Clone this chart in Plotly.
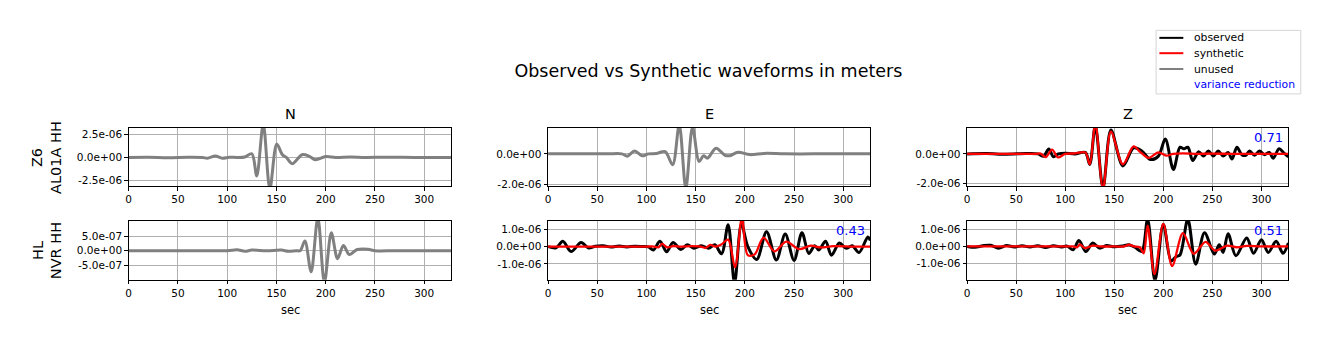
import numpy as np
import plotly.graph_objects as go

W, H = 1329, 351
UM = 1e-6  # values below are stored in micrometres

components = ["N", "E", "Z"]
stations = ["Z6<br>AL01A HH", "HL<br>NVR HH"]
x_ticks = [0, 50, 100, 150, 200, 250, 300]
x_range = [0, 327.5]
legend_labels = ["observed", "synthetic", "unused", "variance reduction"]

# ---------------- Z6 AL01A HH ----------------
z6_n_unused_t = [0, 20, 40, 60, 75, 80, 88, 95, 102, 110, 118, 125, 130, 136.6, 143.3, 150.3, 156, 160,
                 166, 176, 183, 189.6, 200, 210, 225, 240, 260, 290, 327.5]
z6_n_unused_v = [0, 0.02, -0.02, 0.02, 0, -0.08, 0.15, -0.08, 0.03, 0, 0.05, 0.4, -2.0, 3.6, -3.4, 1.46, 0.3, 0.0,
                 -0.68, 0.3, 0.15, -0.25, 0.1, 0.0, 0.05, 0, 0.02, 0, 0]

z6_e_unused_t = [0, 30, 60, 75, 80.5, 88, 95.6, 102, 110, 119, 126.6, 133.3, 140, 146.8, 153.5, 158, 162, 170.7,
                 179.8, 184.8, 193, 205, 220, 240, 270, 300, 327.5]
z6_e_unused_v = [0, 0, 0, 0.0, -0.15, 0.19, -0.13, 0, 0.02, 0.15, -0.71, 1.9, -2.25, 1.75, -0.5, -0.13, -0.28, 0.37,
                 -0.1, -0.12, 0.1, -0.05, 0.03, 0, 0, 0, 0]

z6_z_obs_t = [0, 20, 40, 60, 72, 78, 83.3, 88, 93, 100, 110, 120.5, 125, 130.7, 138.5, 146.6, 158.8, 169.7, 178,
              187, 195, 202, 210.3, 217, 221, 225, 230, 236, 241, 246, 251, 256, 261, 266, 270, 275, 280, 284,
              288, 293, 298, 303, 308, 312, 318, 323, 327.5]
z6_z_obs_v = [0, 0.02, -0.02, 0.02, 0, -0.15, 0.33, -0.2, 0.0, 0.05, 0, 0.1, -0.71, 1.9, -2.3, 1.62, -0.82, 0.4, 0.2,
              -0.38, -0.15, 1.0, -1.05, 0.45, 0.35, 0.45, -0.45, 0.15, -0.15, 0.2, -0.15, 0.2, -0.15, 0.1, -0.35,
              0.45, -0.05, -0.1, 0.2, -0.1, 0.2, -0.05, 0.1, -0.3, 0.35, 0.05, -0.2]
z6_z_syn_t = [0, 40, 70, 75, 80, 86.7, 92.5, 100, 110, 120.5, 125, 130.7, 138.5, 146.6, 158.8, 169.7, 177, 185,
              195, 203, 210, 220, 235, 250, 270, 300, 327.5]
z6_z_syn_v = [0, 0, 0, 0.02, -0.22, 0.29, -0.24, 0.0, 0.03, 0.1, -0.7, 2.0, -2.35, 1.5, -0.7, 0.5, 0.1, -0.27,
              0.1, -0.12, 0.0, 0.04, 0, 0.02, 0, 0, 0]
z6_z_vr = "0.71"

# ---------------- HL NVR HH ----------------
hl_n_unused_t = [0, 50, 100, 110, 118, 125, 140, 155, 162, 170, 174, 178.9, 185.2, 192, 198.7, 205.7, 212, 218,
                 224, 232, 243, 250, 270, 300, 327.5]
hl_n_unused_v = [0, 0, 0, 0.03, -0.02, 0.02, 0, 0.02, -0.02, 0.0, 0.0, 0.33, -0.72, 1.12, -1.08, 0.61, -0.27, 0.18,
                 -0.13, 0.04, 0.05, 0, 0, 0, 0]

hl_e_obs_t = [0, 8, 15, 23.4, 33.5, 41, 48, 56, 64, 72, 80, 88, 96, 102, 107, 113.7, 120.5, 127, 135, 141.5, 148,
              156, 163, 169.5, 176.3, 183, 189.5, 196.5, 203, 212, 222, 232, 241, 250, 258, 265, 271, 275, 282,
              288, 296, 303, 309, 316, 325, 327.5]
hl_e_obs_v = [0, -0.08, 0.3, -0.29, 0.23, -0.08, 0.02, 0.05, -0.03, 0.03, -0.02, 0.02, 0, -0.02, -0.2, 0.3, -0.3,
              0.23, -0.17, 0.11, -0.1, 0.05, -0.1, 0.1, -0.42, 1.26, -2.1, 1.3, 0.0, -0.75, 0.85, -0.78, 0.72, -0.8,
              0.8, -0.4, 0.05, -0.2, 0.3, -0.5, 0.2, -0.1, 0.05, -0.35, 0.55, 0.35]
hl_e_syn_t = [0, 50, 100, 108, 112, 116, 121, 127, 135, 145, 155, 160, 165, 170, 176, 183, 190, 197, 203, 210,
              219, 230, 242, 255, 267, 277, 290, 310, 327.5]
hl_e_syn_v = [0, 0, 0, 0.0, -0.05, 0.15, -0.05, 0.03, 0, 0.02, 0, -0.08, 0.1, 0.0, 0.12, 0.4, -1.2, 1.65, -0.5,
              -0.45, 0.52, -0.28, 0.28, -0.15, 0.05, -0.05, 0.02, 0, 0]
hl_e_vr = "0.43"

hl_z_obs_t = [0, 8, 16, 24, 32, 40, 48, 56, 64, 72, 80, 88, 96, 102, 108, 114, 121, 128, 135, 142, 150, 158, 165,
              171, 178, 184, 191.5, 200, 208, 213, 217, 225, 233, 242, 252, 257, 261, 266, 274, 285, 292, 300,
              307, 315, 322, 327.5]
hl_z_obs_v = [0, -0.05, 0.04, 0.07, -0.1, 0.05, -0.03, 0.04, -0.03, 0.04, -0.06, 0.04, -0.03, 0.02, -0.2, 0.35,
              -0.3, 0.2, -0.1, 0.05, -0.02, 0.02, 0.1, -0.05, -0.3, 1.6, -2.0, 1.3, -0.85, -0.6, -0.5, 1.6, -1.05,
              0.8, -0.45, 0.1, -0.35, 0.75, -0.55, 0.5, -0.4, 0.4, -0.35, 0.3, -0.4, 0.2]
hl_z_syn_t = [0, 50, 100, 108, 112, 115, 120, 128, 135, 150, 160, 165, 170, 176, 180, 184, 191, 200, 209, 220,
              231, 243, 253, 265, 275, 285, 300, 327.5]
hl_z_syn_v = [0, 0, 0, 0, -0.05, 0.12, -0.1, 0.05, 0, 0, 0, 0.1, 0.0, -0.05, -0.4, 1.22, -1.62, 1.32, -1.15, 0.78,
              -0.43, 0.27, -0.25, 0.05, -0.05, 0.03, 0, 0]
hl_z_vr = "0.51"

# axis ranges / ticks (metres)
y_ranges = [[-3.11e-6, 3.21e-6], [-2.11e-6, 1.70e-6], [-2.18e-6, 1.76e-6],
            [-0.99e-6, 1.02e-6], [-1.92e-6, 1.49e-6], [-1.96e-6, 1.51e-6]]
y_tickvals = [[-2.5e-6, 0, 2.5e-6], [-2e-6, 0], [-2e-6, 0],
              [-5e-7, 0, 5e-7], [-1e-6, 0, 1e-6], [-1e-6, 0, 1e-6]]
y_ticktext = [["-2.5e-06", "0.0e+00", "2.5e-06"], ["-2.0e-06", "0.0e+00"], ["-2.0e-06", "0.0e+00"],
              ["-5.0e-07", "0.0e+00", "5.0e-07"], ["-1.0e-06", "0.0e+00", "1.0e-06"],
              ["-1.0e-06", "0.0e+00", "1.0e-06"]]

# ---------------- styles / geometry ----------------
FONT = "DejaVu Sans"
C_OBS, C_SYN, C_UNU, C_VR = "#000000", "#ff0000", "#808080", "#0000ff"
col_px = [(126.0, 449.3), (546.3, 869.3), (966.3, 1288.3)]
row_px = [(129.3, 188.3), (223.3, 283.0)]


def px(x):
    return x / W


def py(y):
    return 1 - y / H


panels = [
    [("unused", z6_n_unused_t, z6_n_unused_v)],
    [("unused", z6_e_unused_t, z6_e_unused_v)],
    [("observed", z6_z_obs_t, z6_z_obs_v), ("synthetic", z6_z_syn_t, z6_z_syn_v)],
    [("unused", hl_n_unused_t, hl_n_unused_v)],
    [("observed", hl_e_obs_t, hl_e_obs_v), ("synthetic", hl_e_syn_t, hl_e_syn_v)],
    [("observed", hl_z_obs_t, hl_z_obs_v), ("synthetic", hl_z_syn_t, hl_z_syn_v)],
]
vr_texts = [None, None, z6_z_vr, None, hl_e_vr, hl_z_vr]
style = {"observed": (C_OBS, 3.0), "synthetic": (C_SYN, 2.3), "unused": (C_UNU, 3.0)}

fig = go.Figure()
layout = dict(
    width=W, height=H, margin=dict(l=0, r=0, t=0, b=0),
    paper_bgcolor="white", plot_bgcolor="white", showlegend=False,
    font=dict(family=FONT, color="black", size=11),
)
annotations = []
shapes = []

for i, traces in enumerate(panels):
    r, c = divmod(i, 3)
    k = i + 1
    xs = "" if k == 1 else str(k)
    for name, t, v in traces:
        color, width = style[name]
        fig.add_trace(go.Scatter(
            x=t, y=np.asarray(v) * UM, mode="lines", name=name,
            line=dict(color=color, width=width, shape="spline", smoothing=0.9),
            xaxis="x" + xs, yaxis="y" + xs, cliponaxis=True,
        ))
    x0, x1 = col_px[c]
    y0, y1 = row_px[r]
    common = dict(showgrid=True, gridcolor="#b0b0b0", gridwidth=0.8, showline=True, linecolor="black",
                  linewidth=1, mirror=True, ticks="outside", ticklen=3.5, tickcolor="black", tickwidth=1,
                  zeroline=False, tickfont=dict(size=10.5, family=FONT, color="black"))
    layout["xaxis" + xs] = dict(domain=[px(x0), px(x1)], range=x_range, tickvals=x_ticks,
                               anchor="y" + xs, **common)
    layout["yaxis" + xs] = dict(domain=[py(y1), py(y0)], range=y_ranges[i], tickvals=y_tickvals[i],
                               ticktext=y_ticktext[i], anchor="x" + xs, **common)
    if r == 0:
        annotations.append(dict(text=components[c], x=px((x0 + x1) / 2), y=py(115.5), xref="paper",
                                yref="paper", showarrow=False, xanchor="center", yanchor="middle",
                                font=dict(size=14.5, family=FONT)))
    else:
        annotations.append(dict(text="sec", x=px((x0 + x1) / 2), y=py(314), xref="paper", yref="paper",
                                showarrow=False, xanchor="center", yanchor="middle",
                                font=dict(size=11.5, family=FONT)))
    if c == 0:
        annotations.append(dict(text=stations[r], x=px(44), y=py((y0 + y1) / 2), xref="paper", yref="paper",
                                showarrow=False, textangle=-90, xanchor="center", yanchor="middle",
                                font=dict(size=14.5, family=FONT)))
    if vr_texts[i]:
        annotations.append(dict(text=vr_texts[i], x=px(x1 - 3.5), y=py(y0 + 9.5), xref="paper", yref="paper",
                                showarrow=False, xanchor="right", yanchor="middle",
                                font=dict(size=13, family=FONT, color=C_VR)))

# legend box (matplotlib-style)
shapes.append(dict(type="rect", xref="paper", yref="paper", x0=px(1155.7), x1=px(1300.7), y0=py(95),
                   y1=py(30.7), line=dict(color="#d5d5d5", width=1), fillcolor="white", layer="above"))
leg_y = [38.3, 53.8, 69.8, 85.3]
leg_colors = [C_OBS, C_SYN, C_UNU, None]
for lab, yy, col in zip(legend_labels, leg_y, leg_colors):
    if col:
        shapes.append(dict(type="line", xref="paper", yref="paper", x0=px(1159), x1=px(1183), y0=py(yy),
                           y1=py(yy), line=dict(color=col, width=2), layer="above"))
    annotations.append(dict(text=lab, x=px(1191.5), y=py(yy), xref="paper", yref="paper", showarrow=False,
                            xanchor="left", yanchor="middle",
                            font=dict(size=10.8, family=FONT, color="black" if col else C_VR)))

layout["annotations"] = annotations
layout["shapes"] = shapes
layout["title"] = dict(text="Observed vs Synthetic waveforms in meters", x=px(707), y=py(72),
                       xref="paper", yref="paper", xanchor="center", yanchor="middle",
                       font=dict(size=17.5, family=FONT, color="black"))
fig.update_layout(**layout)
fig.write_html("out.html")
